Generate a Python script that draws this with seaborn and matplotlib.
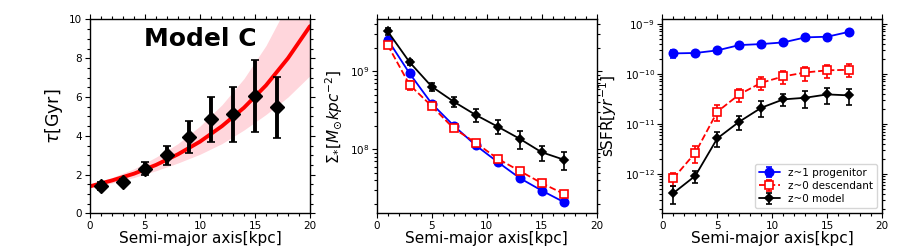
import numpy as np
import pandas as pd
import matplotlib
matplotlib.use('Agg')
import matplotlib.pyplot as plt
import seaborn as sns
from matplotlib.ticker import MultipleLocator

# radial bins (semi-major axis, kpc)
radius = [1, 3, 5, 7, 9, 11, 13, 15, 17]

# panel 1: infall timescale
tau = [1.40, 1.60, 2.30, 3.00, 3.95, 4.85, 5.10, 6.05, 5.50]
tau_lo = [1.20, 1.45, 2.00, 2.50, 3.10, 3.70, 3.70, 4.20, 3.90]
tau_hi = [1.60, 1.75, 2.65, 3.50, 4.75, 6.00, 6.50, 7.90, 7.05]

# fitted model curve and its band
fit_r = [0, 2, 4, 6, 8, 10, 12, 14, 16, 18, 20]
fit_tau = [1.40, 1.70, 2.05, 2.50, 3.05, 3.70, 4.50, 5.45, 6.60, 8.00, 9.65]
fit_upper = [1.50, 1.85, 2.30, 2.90, 3.60, 4.50, 5.60, 6.95, 8.65, 10.8, 13.4]
fit_lower = [1.33, 1.57, 1.85, 2.20, 2.60, 3.05, 3.60, 4.30, 5.10, 6.00, 7.10]

# panel 2: stellar surface density
sigma_prog = [2.56e9, 9.4e8, 3.87e8, 2.02e8, 1.13e8, 6.9e7, 4.3e7, 2.97e7, 2.12e7]
sigma_prog_err = [8e7, 3e7, 1.2e7, 6e6, 4e6, 2e6, 1.5e6, 1e6, 8e5]
sigma_desc = [2.18e9, 6.7e8, 3.6e8, 1.86e8, 1.22e8, 7.6e7, 5.3e7, 3.7e7, 2.7e7]
sigma_desc_err = [1e8, 9e7, 2e7, 1e7, 5e6, 3e6, 2e6, 1.5e6, 1e6]
sigma_model = [3.27e9, 1.31e9, 6.4e8, 4.1e8, 2.77e8, 1.96e8, 1.37e8, 9.2e7, 7.4e7]
sigma_model_err = [3e8, 1.1e8, 8e7, 6e7, 5.5e7, 4e7, 3.7e7, 2e7, 1.9e7]

# panel 3: specific star formation rate
ssfr_prog = [2.55e-10, 2.6e-10, 2.93e-10, 3.74e-10, 3.92e-10, 4.23e-10, 5.33e-10, 5.5e-10, 6.9e-10]
ssfr_prog_err = [5e-11, 3e-11, 3e-11, 3e-11, 3e-11, 3e-11, 4e-11, 4e-11, 5e-11]
ssfr_desc = [8.07e-13, 2.63e-12, 1.74e-11, 3.86e-11, 6.6e-11, 8.85e-11, 1.06e-10, 1.17e-10, 1.2e-10]
ssfr_desc_err = [2.3e-13, 1e-12, 5.8e-12, 1.1e-11, 1.9e-11, 2.5e-11, 3.3e-11, 3.5e-11, 3.5e-11]
ssfr_model = [4.1e-13, 9.1e-13, 5.1e-12, 1.1e-11, 2.09e-11, 3.07e-11, 3.31e-11, 3.86e-11, 3.69e-11]
ssfr_model_err = [1.6e-13, 2.5e-13, 1.6e-12, 3.5e-12, 7e-12, 8.5e-12, 1.2e-11, 1.35e-11, 1.35e-11]

labels = ['z~1 progenitor', 'z~0 descendant', 'z~0 model']

sns.set_style('ticks')
plt.rcParams['font.family'] = ['DejaVu Sans']
plt.rcParams.update({
    'xtick.labelsize': 7.5, 'ytick.labelsize': 7.5,
    'text.color': 'black', 'axes.labelcolor': 'black',
    'xtick.color': 'black', 'ytick.color': 'black',
    'axes.edgecolor': 'black',
})


def style_axis(ax):
    ax.tick_params(which='both', direction='out', top=True, right=True, width=0.8, pad=2)
    ax.tick_params(which='major', length=3.5)
    ax.tick_params(which='minor', length=2)
    for s in ax.spines.values():
        s.set_linewidth(1.0)
        s.set_color('black')
    ax.set_xlim(0, 20)
    ax.xaxis.set_major_locator(MultipleLocator(5))
    ax.xaxis.set_minor_locator(MultipleLocator(1))
    ax.set_xlabel('Semi-major axis[kpc]', fontsize=11, labelpad=0)


def draw_three(ax, ys, errs):
    styles = [
        dict(color='blue', marker='o', ms=6, ls='-', mfc='blue'),
        dict(color='red', marker='s', ms=6, ls='--', mfc='white'),
        dict(color='black', marker='D', ms=4.5, ls='-', mfc='black'),
    ]
    for y, e, st, lab in zip(ys, errs, styles, labels):
        ax.errorbar(radius, y, yerr=e, color=st['color'], marker=st['marker'],
                    ms=st['ms'], mfc=st['mfc'], mec=st['color'], mew=1.2,
                    ls=st['ls'], lw=1.3, capsize=2, elinewidth=1.2, label=lab)


fig = plt.figure(figsize=(9, 2.52), dpi=100)
w, h, b = 0.2444, 0.770, 0.153
ax1 = fig.add_axes([0.1, b, w, h])
ax2 = fig.add_axes([0.4185, b, w, h])
ax3 = fig.add_axes([0.7359, b, w, h])

# panel 1
fit_df = pd.DataFrame({'r': fit_r, 'tau': fit_tau})
ax1.fill_between(fit_r, fit_lower, fit_upper, color='#ffd6dc', lw=0)
sns.lineplot(data=fit_df, x='r', y='tau', color='red', lw=2.8, ax=ax1)
tau_arr = np.array(tau)
yerr = [tau_arr - np.array(tau_lo), np.array(tau_hi) - tau_arr]
ax1.errorbar(radius, tau, yerr=yerr, fmt='D', color='black', ms=7,
             elinewidth=2.8, capsize=3, capthick=1.2)
style_axis(ax1)
ax1.set_ylim(0, 10)
ax1.yaxis.set_major_locator(MultipleLocator(2))
ax1.yaxis.set_minor_locator(MultipleLocator(0.5))
ax1.set_ylabel(r'$\tau$[Gyr]', fontsize=12.5, labelpad=3)
ax1.text(0.5, 0.90, 'Model C', transform=ax1.transAxes, ha='center', va='center',
         fontsize=18, fontweight='bold')

# panel 2
draw_three(ax2, [sigma_prog, sigma_desc, sigma_model],
           [sigma_prog_err, sigma_desc_err, sigma_model_err])
ax2.set_yscale('log')
ax2.set_ylim(1.51e7, 4.64e9)
style_axis(ax2)
ax2.set_ylabel(r'$\Sigma_{*}[M_{\odot}kpc^{-2}]$', fontsize=11, labelpad=3)

# panel 3
draw_three(ax3, [ssfr_prog, ssfr_desc, ssfr_model],
           [ssfr_prog_err, ssfr_desc_err, ssfr_model_err])
ax3.set_yscale('log')
ax3.set_ylim(1.61e-13, 1.22e-9)
style_axis(ax3)
ax3.set_ylabel(r'sSFR$[yr^{-1}]$', fontsize=11, labelpad=4)
leg = ax3.legend(loc='lower right', fontsize=7.5, frameon=True, handlelength=2,
                 borderpad=0.4, labelspacing=0.3)
leg.get_frame().set_edgecolor('#cccccc')

fig.savefig('out.png', dpi=100)
